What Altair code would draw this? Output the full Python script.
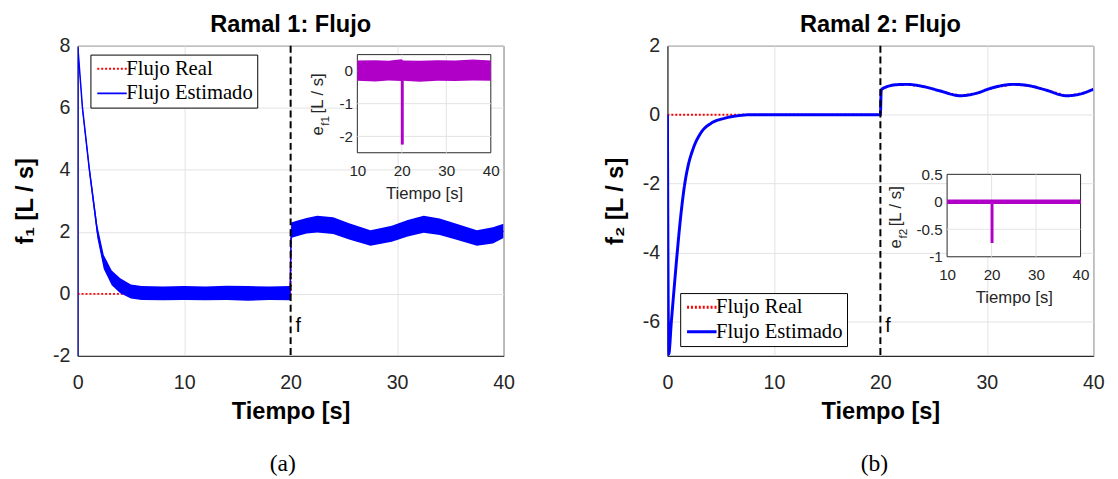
import altair as alt
import pandas as pd

# ---------------- data ----------------
SERIES = ["Flujo Real", "Flujo Estimado"]

# Panel (a) - Ramal 1
a_est_t = [0, 0.02, 0.45, 1.1, 1.85, 2.45, 3.2, 4.0, 5.0, 6.0, 8, 10, 12, 14, 16, 18, 19.95,
           20.05, 20.5, 21.5, 22.5, 24, 25.5, 27.5, 29.5, 31, 32.5, 34, 35.5, 37.5, 39, 40]
a_est_y = [-2, 7.95, 6.0, 4.0, 2.0, 1.0, 0.5, 0.25, 0.08, 0.03, 0.02, 0, 0, 0, 0, 0, 0,
           2.05, 2.1, 2.2, 2.25, 2.2, 2.0, 1.8, 1.95, 2.1, 2.24, 2.15, 2.0, 1.79, 1.88, 2.02]
a_band_t = [0.02, 0.45, 1.1, 1.85, 2.45, 3.2, 4.0, 5.0, 6.0, 8, 10, 12, 14, 16, 18, 19.95,
            20.05, 20.5, 21.5, 22.5, 24, 25.5, 27.5, 29.5, 31, 32.5, 34, 35.5, 37.5, 39, 40]
a_band_lo = [7.85, 5.85, 3.85, 1.8, 0.8, 0.28, 0.02, -0.15, -0.2, -0.21, -0.2, -0.21, -0.2, -0.22, -0.2, -0.21,
             1.8, 1.85, 1.95, 1.98, 1.93, 1.75, 1.55, 1.68, 1.85, 1.97, 1.9, 1.75, 1.55, 1.62, 1.8]
a_band_hi = [8.0, 6.1, 4.15, 2.2, 1.25, 0.75, 0.5, 0.3, 0.25, 0.24, 0.25, 0.24, 0.26, 0.25, 0.24, 0.25,
             2.3, 2.35, 2.45, 2.52, 2.47, 2.28, 2.05, 2.2, 2.38, 2.52, 2.43, 2.27, 2.05, 2.15, 2.26]
a_real_t = [0, 20, 20.05, 20.5, 21.5, 22.5, 24, 25.5, 27.5, 29.5, 31, 32.5, 34, 35.5, 37.5, 39, 40]
a_real_y = [0, 0, 2.05, 2.1, 2.2, 2.25, 2.2, 2.0, 1.8, 1.95, 2.1, 2.24, 2.15, 2.0, 1.79, 1.88, 2.02]

# inset (a): error e_f1
ia_t = [10, 14, 17, 19.9, 20.3, 24, 28, 32, 36, 40]
ia_lo = [-0.3, -0.32, -0.29, -0.31, -0.3, -0.33, -0.3, -0.31, -0.29, -0.3]
ia_hi = [0.32, 0.33, 0.31, 0.36, 0.32, 0.31, 0.33, 0.32, 0.35, 0.32]
ia_spike_t = [20.1]
ia_spike_lo = [-2.25]
ia_spike_hi = [0.0]

# Panel (b) - Ramal 2
b_est_t = [0, 0.12, 0.37, 0.64, 0.92, 1.23, 1.63, 1.93, 2.4, 3.2, 4.1, 5.4, 6.6, 8, 20,
           20.08, 20.5, 21.5, 22.5, 24, 25.5, 27.5, 29, 30.5, 32.5, 34, 35.5, 37.5, 39, 40]
b_est_y = [0, -6.95, -6.0, -5.0, -4.0, -3.0, -2.0, -1.5, -1.0, -0.5, -0.25, -0.1, -0.03, 0, 0,
           0.72, 0.8, 0.87, 0.88, 0.82, 0.7, 0.55, 0.62, 0.78, 0.88, 0.84, 0.72, 0.55, 0.62, 0.74]
b_real_t = [0, 20, 20.08, 20.5, 21.5, 22.5, 24, 25.5, 27.5, 29, 30.5, 32.5, 34, 35.5, 37.5, 39, 40]
b_real_y = [0, 0, 0.72, 0.8, 0.87, 0.88, 0.82, 0.7, 0.55, 0.62, 0.78, 0.88, 0.84, 0.72, 0.55, 0.62, 0.74]

# inset (b): error e_f2
ib_t = [10, 40]
ib_y = [0, 0]
ib_spike_t = [20.1]
ib_spike_lo = [-0.75]
ib_spike_hi = [0.0]

fault_t = [20]

# ---------------- styling ----------------
FONT = "Liberation Sans"
SERIF = "Liberation Serif"
AX = "#262626"
GRID = "#e2e2e2"
PURPLE = "#b000c8"
W, H = 434, 316
LBL = "'' + datum.value"

color_scale = alt.Scale(domain=SERIES, range=["#ff0000", "#0000ff"])
dash_scale = alt.Scale(domain=SERIES, range=[[2, 2], [1, 0]])


def legend(lx, ly, sw):
    return alt.Legend(title=None, orient="none", legendX=lx, legendY=ly,
                      symbolType="M-2,0H2", symbolSize=225, symbolStrokeWidth=sw,
                      symbolOffset=7.5, labelOffset=4,
                      labelFont=SERIF, labelFontSize=21, labelColor="black",
                      strokeColor="black", fillColor="white", padding=4,
                      rowPadding=3, cornerRadius=0)


def panel(title, ytitle, ydom, yticks, est_t, est_y, real_t, real_y, band, blue_w,
          f_y, leg_xy, caption, cap_x, inset):
    xs = alt.Scale(domain=[0, 40], nice=False, zero=False)
    ys = alt.Scale(domain=ydom, nice=False, zero=False)
    xaxis = alt.Axis(values=[0, 10, 20, 30, 40], title="Tiempo [s]", titleFont=FONT,
                     titleFontSize=24, titleFontWeight="bold", titleColor="black",
                     titlePadding=8, labelFont=FONT, labelFontSize=20, labelColor=AX,
                     labelPadding=17, labelFlush=False, labelExpr=LBL, grid=True,
                     gridColor=GRID, domainColor=AX, ticks=False)
    yaxis = alt.Axis(values=yticks, title=ytitle, titleFont=FONT, titleFontSize=24,
                     titleFontWeight="bold", titleColor="black", titlePadding=15,
                     labelFont=FONT, labelFontSize=20, labelColor=AX, labelPadding=8,
                     labelExpr=LBL, grid=True, gridColor=GRID, domainColor=AX, ticks=False)
    leg = legend(leg_xy[0], leg_xy[1], 2 if blue_w < 2 else 3)

    real_df = pd.DataFrame({"t": real_t, "v": real_y, "serie": SERIES[0]})
    est_df = pd.DataFrame({"t": est_t, "v": est_y, "serie": SERIES[1]})

    red = alt.Chart(real_df).mark_line(strokeWidth=2, clip=True).encode(
        x=alt.X("t:Q", scale=xs, axis=xaxis),
        y=alt.Y("v:Q", scale=ys, axis=yaxis),
        color=alt.Color("serie:N", scale=color_scale, legend=leg),
        strokeDash=alt.StrokeDash("serie:N", scale=dash_scale, legend=leg),
    )
    layers = [red]
    if band is not None:
        band_df = pd.DataFrame({"t": band[0], "lo": band[1], "hi": band[2]})
        layers.append(alt.Chart(band_df).mark_area(color="#0000ff", opacity=1, clip=True).encode(
            x=alt.X("t:Q", scale=xs),
            y=alt.Y("lo:Q", scale=ys), y2="hi:Q"))
    blue = alt.Chart(est_df).mark_line(strokeWidth=blue_w, clip=True,
                                       interpolate="monotone" if band is None else "linear").encode(
        x=alt.X("t:Q", scale=xs),
        y=alt.Y("v:Q", scale=ys),
        color=alt.Color("serie:N", scale=color_scale, legend=leg),
        strokeDash=alt.StrokeDash("serie:N", scale=dash_scale, legend=leg),
    )
    layers.append(blue)
    fdf = pd.DataFrame({"t": fault_t, "v": [f_y], "lab": ["f"]})
    layers.append(alt.Chart(fdf).mark_rule(color="black", strokeDash=[7, 4], strokeWidth=2).encode(
        x=alt.X("t:Q", scale=xs)))
    layers.append(alt.Chart(fdf).mark_text(align="left", baseline="middle", dx=5, font=FONT,
                                           fontSize=20, color="black").encode(
        x=alt.X("t:Q", scale=xs), y=alt.Y("v:Q", scale=ys), text="lab:N"))
    cdf = pd.DataFrame({"cap": [caption]})
    layers.append(alt.Chart(cdf).mark_text(font=SERIF, fontSize=24, color="black",
                                           baseline="middle", align="center").encode(
        x=alt.value(cap_x), y=alt.value(426), text="cap:N"))
    main = alt.layer(*layers)

    # ---- inset ----
    ixs = alt.Scale(domain=[10, 40], range=inset["xr"], nice=False, zero=False)
    iys = alt.Scale(domain=inset["ydom"], range=inset["yr"], nice=False, zero=False)
    ix_axis = alt.Axis(orient="bottom", offset=inset["xoff"], values=[10, 20, 30, 40],
                       grid=False, domain=False, ticks=False, labelFont=FONT,
                       labelFontSize=15.5, labelColor=AX, labelPadding=11, labelExpr=LBL,
                       labelFlush=False, title="Tiempo [s]", titleFont=FONT,
                       titleFontSize=17, titleFontWeight="normal", titleColor=AX,
                       titlePadding=7)
    iy_axis = alt.Axis(orient="left", offset=inset["yoff"], values=inset["yticks"],
                       grid=False, domain=False, ticks=False, labelFont=FONT,
                       labelFontSize=15.5, labelColor=AX, labelPadding=5, labelExpr=LBL,
                       labelFlush=False, title=None)
    frame_df = pd.DataFrame({"x0": [10], "x1": [40], "y0": [inset["ydom"][0]], "y1": [inset["ydom"][1]]})
    ilayers = [alt.Chart(frame_df).mark_rect(fill="white", stroke=AX, strokeWidth=1).encode(
        x=alt.X("x0:Q", scale=ixs, axis=ix_axis), x2="x1:Q",
        y=alt.Y("y0:Q", scale=iys, axis=iy_axis), y2="y1:Q")]
    gx = pd.DataFrame({"g": inset["gx"], "lo": inset["ydom"][0], "hi": inset["ydom"][1]})
    gy = pd.DataFrame({"g": inset["gy"], "lo": 10, "hi": 40})
    ilayers.append(alt.Chart(gx).mark_rule(color=GRID).encode(
        x=alt.X("g:Q", scale=ixs),
        y=alt.Y("lo:Q", scale=iys), y2="hi:Q"))
    ilayers.append(alt.Chart(gy).mark_rule(color=GRID).encode(
        y=alt.Y("g:Q", scale=iys),
        x=alt.X("lo:Q", scale=ixs), x2="hi:Q"))
    if inset["kind"] == "band":
        bdf = pd.DataFrame({"t": inset["t"], "lo": inset["lo"], "hi": inset["hi"]})
        ilayers.append(alt.Chart(bdf).mark_area(color=PURPLE, opacity=1).encode(
            x=alt.X("t:Q", scale=ixs),
            y=alt.Y("lo:Q", scale=iys), y2="hi:Q"))
    else:
        ldf = pd.DataFrame({"t": inset["t"], "v": inset["v"]})
        ilayers.append(alt.Chart(ldf).mark_line(color=PURPLE, strokeWidth=4.5).encode(
            x=alt.X("t:Q", scale=ixs),
            y=alt.Y("v:Q", scale=iys)))
    sdf = pd.DataFrame({"t": inset["st"], "lo": inset["slo"], "hi": inset["shi"]})
    ilayers.append(alt.Chart(sdf).mark_rule(color=PURPLE, strokeWidth=3).encode(
        x=alt.X("t:Q", scale=ixs),
        y=alt.Y("lo:Q", scale=iys), y2="hi:Q"))
    # inset y title: e_{fN} [L / s]
    tx, ty = inset["title_xy"]
    tdf = pd.DataFrame({"e": ["e"], "sub": [inset["sub"]], "unit": ["[L / s]"]})
    ilayers.append(alt.Chart(tdf).mark_text(angle=270, align="left", baseline="middle",
                                            font=FONT, fontSize=17, color=AX).encode(
        x=alt.value(tx), y=alt.value(ty), text="e:N"))
    ilayers.append(alt.Chart(tdf).mark_text(angle=270, align="left", baseline="middle",
                                            font=FONT, fontSize=12, color=AX).encode(
        x=alt.value(tx + 7), y=alt.value(ty - 10), text="sub:N"))
    ilayers.append(alt.Chart(tdf).mark_text(angle=270, align="left", baseline="middle",
                                            font=FONT, fontSize=17, color=AX).encode(
        x=alt.value(tx), y=alt.value(ty - 22.5), text="unit:N"))
    ins = alt.layer(*ilayers)

    return alt.layer(main, ins).resolve_scale(x="independent", y="independent").properties(
        width=W, height=H,
        title=alt.Title(title, font=FONT, fontSize=24, fontWeight="bold", color="black",
                        anchor="middle", frame="group", offset=-1))


inset_a = dict(kind="band", xr=[285, 421], ydom=[-2.5, 0.5], yr=[109, 9], xoff=-(H - 109),
               yoff=-285, yticks=[0, -1, -2], gx=[20, 30], gy=[0, -1, -2],
               t=ia_t, lo=ia_lo, hi=ia_hi, st=ia_spike_t, slo=ia_spike_lo, shi=ia_spike_hi,
               title_xy=(245, 91.5), sub="f1")
inset_b = dict(kind="line", xr=[285, 421], ydom=[-1, 0.5], yr=[215, 131], xoff=-(H - 215),
               yoff=-285, yticks=[0.5, 0, -0.5, -1], gx=[20, 30], gy=[0, -0.5],
               t=ib_t, v=ib_y, st=ib_spike_t, slo=ib_spike_lo, shi=ib_spike_hi,
               title_xy=(233, 206.5), sub="f2")

pa = panel("Ramal 1: Flujo", "f\u2081 [L / s]", [-2, 8], [-2, 0, 2, 4, 6, 8],
           a_est_t, a_est_y, a_real_t, a_real_y, (a_band_t, a_band_lo, a_band_hi), 1.5,
           -1.05, (13, 9), "(a)", 209, inset_a)
pb = panel("Ramal 2: Flujo", "f\u2082 [L / s]", [-7, 2], [-6, -4, -2, 0, 2],
           b_est_t, b_est_y, b_real_t, b_real_y, None, 3,
           -6.15, (13, 252), "(b)", 211, inset_b)

chart = alt.hconcat(pa, pb, spacing=89).resolve_scale(
    color="independent", strokeDash="independent"
).resolve_legend(color="independent", strokeDash="independent").configure(
    background="white", font=FONT,
    padding={"left": 5, "right": 5, "top": 0, "bottom": 0}
).configure_view(stroke=AX, strokeWidth=1)

chart.save("out.html", embed_options={"renderer": "svg", "actions": False})
